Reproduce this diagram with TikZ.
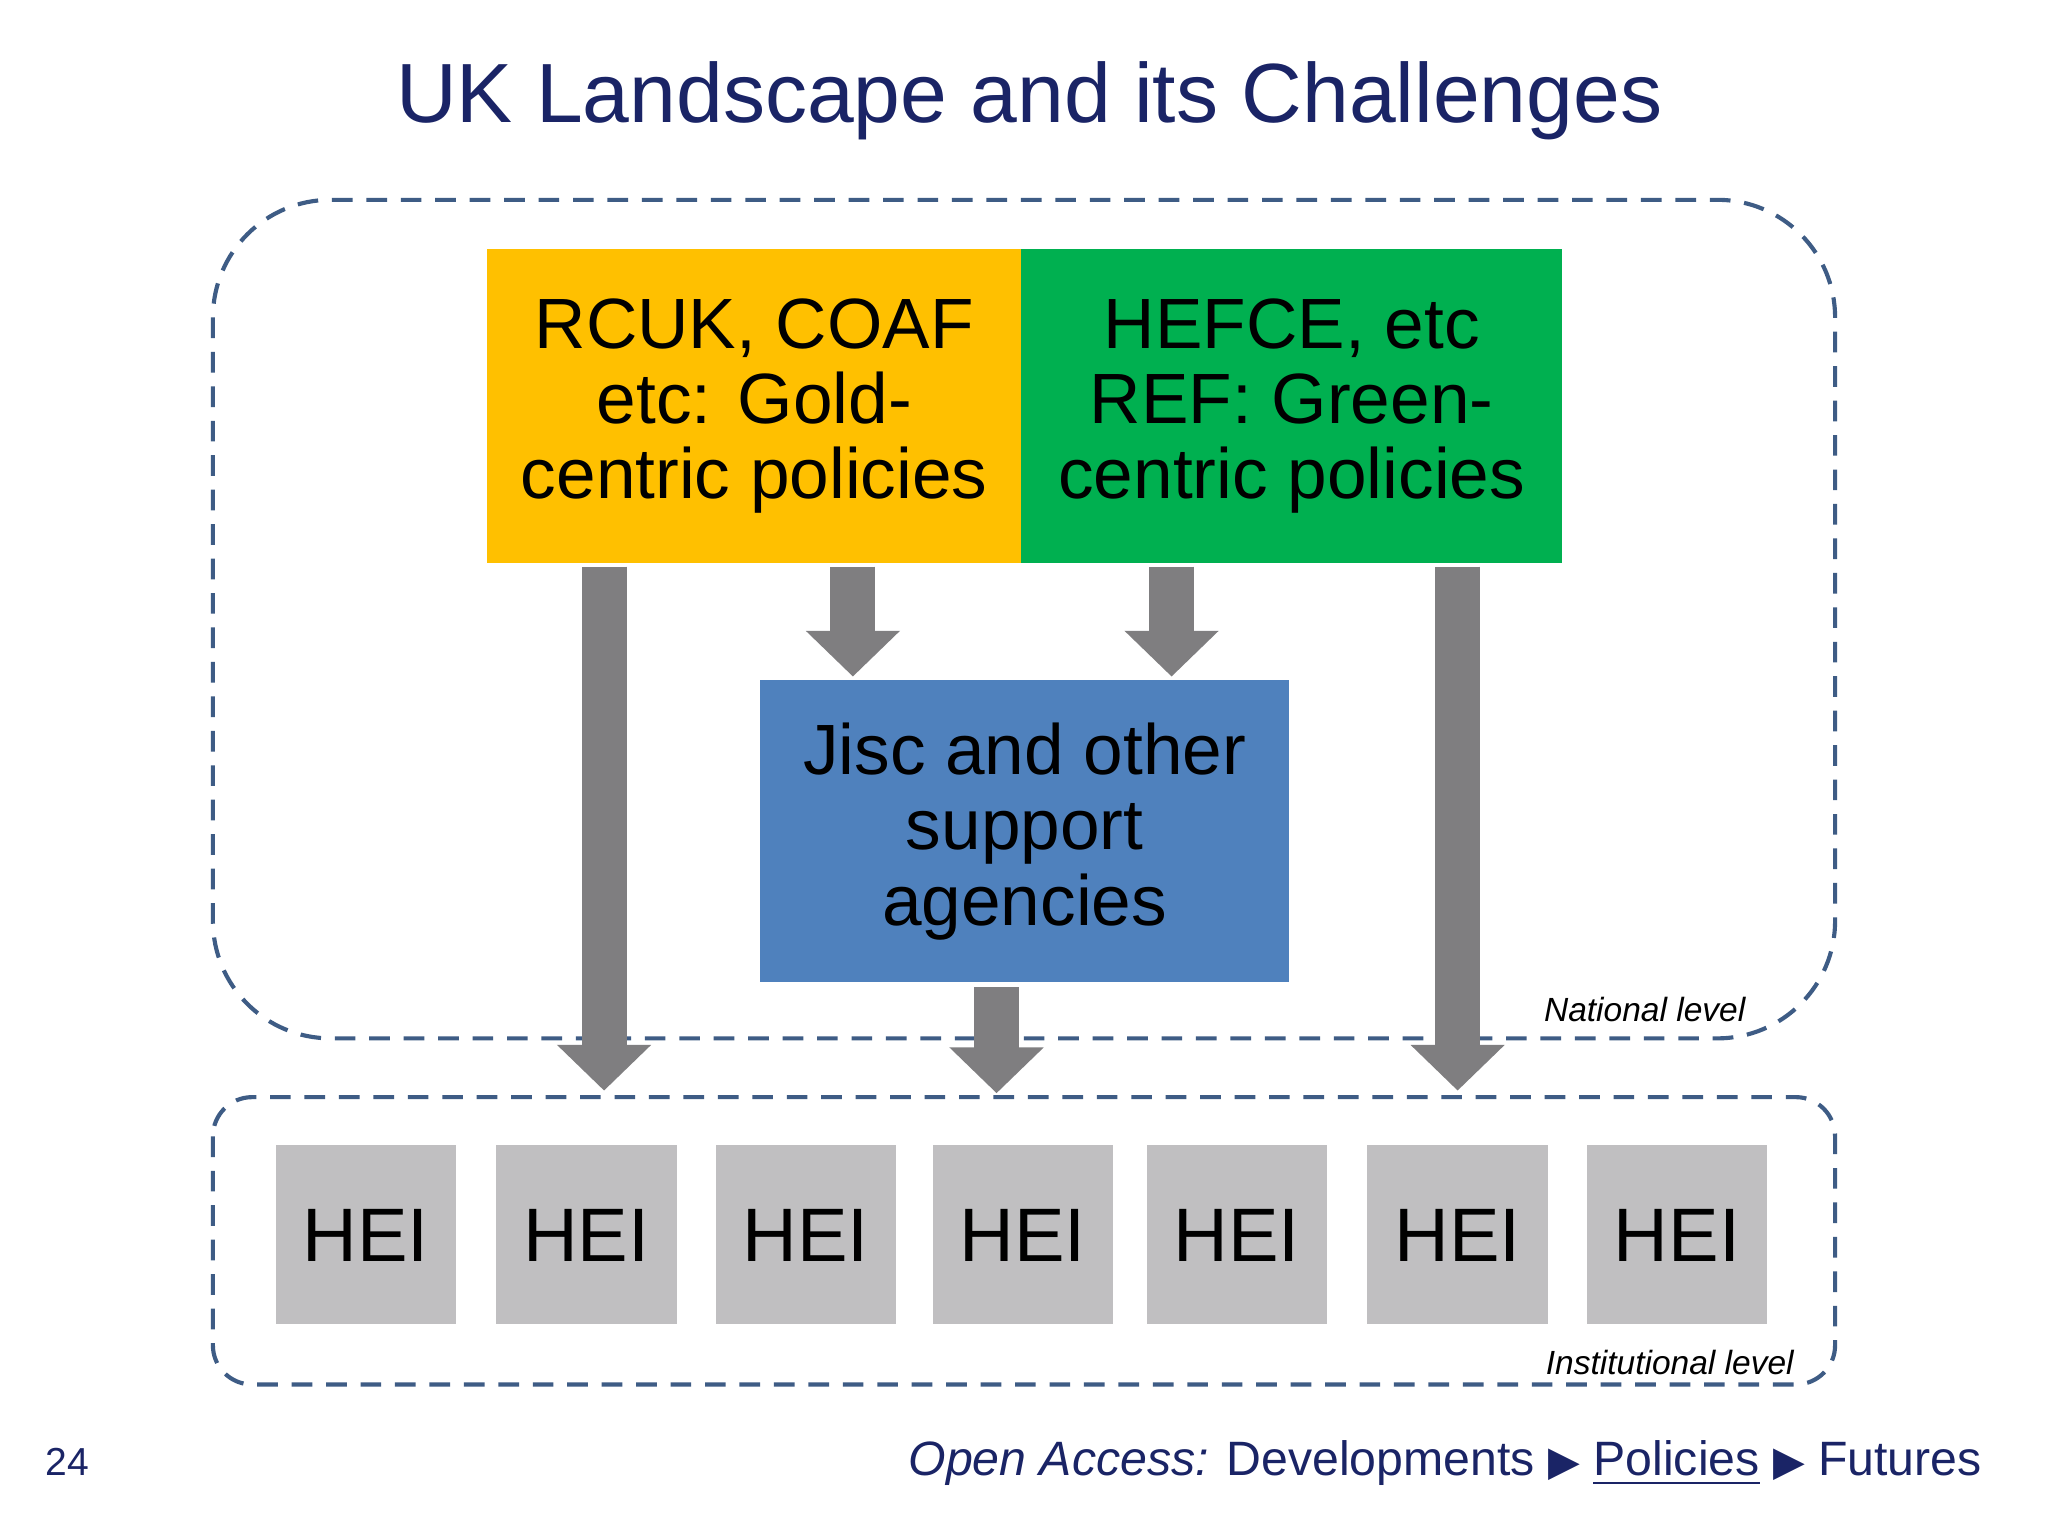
\documentclass[tikz,border=0pt]{standalone}
\usepackage{fontspec}
\setmainfont{Liberation Sans}
\newfontfamily\symfont{DejaVu Sans}
\usetikzlibrary{arrows.meta}
\definecolor{navy}{HTML}{1A2466}
\definecolor{dashc}{HTML}{3E5C85}
\definecolor{ygold}{HTML}{FFC000}
\definecolor{ggreen}{HTML}{00B050}
\definecolor{bblue}{HTML}{4F81BD}
\definecolor{agray}{HTML}{7F7E80}
\definecolor{hgray}{HTML}{C0BFC1}
\begin{document}
\begin{tikzpicture}[x=0.01cm,y=-0.01cm,
  region/.style={draw=dashc,line width=0.9pt,dash pattern=on 4.5pt off 3pt},
  topbox/.style={minimum height=2.4cm,align=center,inner sep=0pt,font=\fontsize{15.5}{16.4}\selectfont},
  hei/.style={fill=hgray,minimum width=1.38cm,minimum height=1.37cm,inner sep=0pt,font=\fontsize{16.5}{18}\selectfont},
  bigarrow/.style={draw=agray,line width=0.345cm,-{Triangle[width=0.7cm,length=0.35cm]}},
  lvl/.style={font=\fontsize{7.3}{8}\selectfont\itshape,anchor=base east,inner sep=0pt}]
\useasboundingbox (0,0) rectangle (1568,1176);
\fill[white] (0,0) rectangle (1568,1176);
\node[navy,font=\fontsize{18.3}{20}\selectfont] (title) at (788,77) {UK Landscape and its Challenges};
\draw[region,rounded corners=0.9cm] (163,153) rectangle (1405,795);
\draw[region,rounded corners=0.3cm] (163,840) rectangle (1405,1060);
\node[lvl] (nat) at (1337,782) {National level};
\node[lvl] (inst) at (1374,1052) {Institutional level};
\node[topbox,fill=ygold,minimum width=4.09cm] (gold) at (577.5,311) {RCUK, COAF\\etc: Gold-\\centric policies};
\node[topbox,fill=ggreen,minimum width=4.14cm] (green) at (989,311) {HEFCE, etc\\REF: Green-\\centric policies};
\node[topbox,fill=bblue,minimum width=4.05cm,minimum height=2.31cm] (jisc) at (784.5,636.5) {Jisc and other\\support\\agencies};
\foreach \x [count=\i] in {211,380,548,714,878,1047,1215}
  \node[hei] (h\i) at (\x+69,945.5) {HEI};
\coordinate (t1) at (462.5,835);
\coordinate (t2) at (653,518);
\coordinate (t3) at (897,518);
\coordinate (t4) at (1116,835);
\coordinate (t5) at (763,837);
\draw[bigarrow] (gold.south -| t1) ++(0,2) -- (t1);
\draw[bigarrow] (gold.south -| t2) ++(0,2) -- (t2);
\draw[bigarrow] (green.south -| t3) ++(0,2) -- (t3);
\draw[bigarrow] (green.south -| t4) ++(0,2) -- (t4);
\draw[bigarrow] (jisc.south -| t5) ++(0,3) -- (t5);
\node[navy,font=\fontsize{8.5}{10}\selectfont,anchor=base west,inner sep=0pt] (pg) at (34,1130) {24};
\node[anchor=base east,inner sep=0pt,font=\fontsize{10.5}{12}\selectfont,text=navy] (foot) at (1518,1130)
  {\textit{Open Access:} Developments {\symfont\fontsize{9}{10}\selectfont▶} \underline{Policies} {\symfont\fontsize{9}{10}\selectfont▶} Futures};
\end{tikzpicture}
\end{document}
